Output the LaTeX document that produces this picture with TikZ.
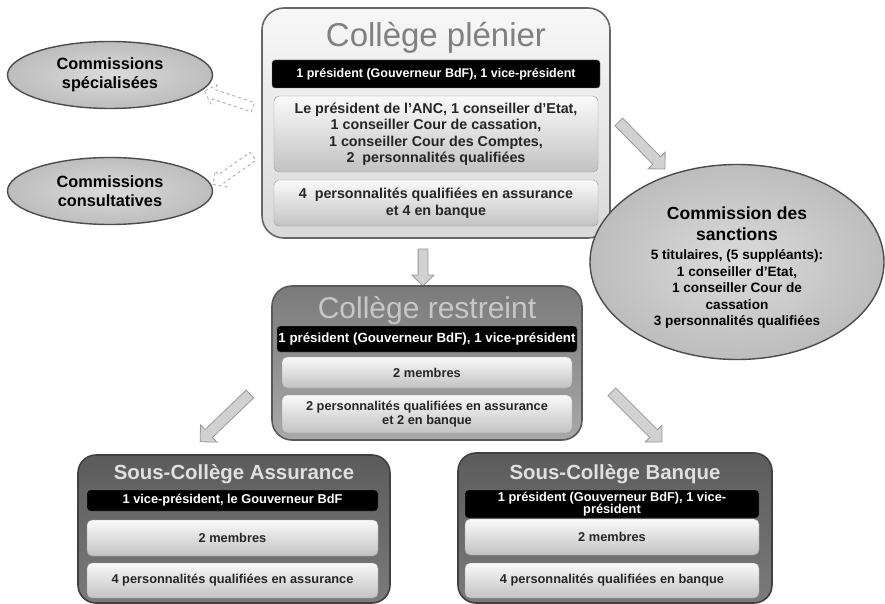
\documentclass[tikz,border=0pt]{standalone}
\usepackage{fontspec}
\setmainfont{Liberation Sans}
\usetikzlibrary{shapes.geometric,shapes.arrows}
\begin{document}
\begin{tikzpicture}[x=1pt,y=1pt,
  box/.style={rectangle, inner sep=0pt, align=center},
  outerA/.style={box, draw=black!60, line width=1.6pt, rounded corners=22pt, top color=black!3, bottom color=black!15},
  outerB/.style={box, draw=black!65, line width=1.6pt, rounded corners=20pt, top color=black!52, bottom color=black!34},
  outerC/.style={box, draw=black!75, line width=1.6pt, rounded corners=18pt, top color=black!64, bottom color=black!52},
  blackbar/.style={box, fill=black, draw=black!55, rounded corners=3pt, text=white},
  lightbox/.style={box, draw=black!40, rounded corners=5pt, top color=black!2, bottom color=black!24, text=black!85},
  oval/.style={ellipse, inner sep=0pt, align=center, draw=black!70, line width=1.4pt, inner color=black!14, outer color=black!26, text=black},
  bigarrow/.style={single arrow, draw=black!40, fill=black!18, line width=0.8pt, inner sep=5pt, single arrow head extend=6.5pt, single arrow head indent=0pt},
  dasharrow/.style={single arrow, draw=black!35, fill=white, dashed, line width=0.8pt, inner sep=4.5pt, single arrow head extend=5pt, single arrow head indent=0pt},
  fA/.style={font=\bfseries\fontsize{12.5}{14}\selectfont},
  fB/.style={font=\bfseries\fontsize{14.3}{16.5}\selectfont},
  fC/.style={font=\bfseries\fontsize{12.8}{14}\selectfont},
  fD/.style={font=\bfseries\fontsize{13.3}{14}\selectfont}
]
\useasboundingbox (0,0) rectangle (885,-604);
\fill[white] (0,0) rectangle (885,-604);

% Collège plénier
\node[outerA, minimum width=348, minimum height=230] (plen) at (436,-123) {};
\node[text=black!50, font=\fontsize{33}{36}\selectfont] (plent) at (436,-38) {Collège plénier};
\node[blackbar, fA, minimum width=328, minimum height=28] (plenb) at (436,-74) {1 président (Gouverneur BdF), 1 vice-président};
\node[lightbox, fB, minimum width=324, minimum height=76] (plen2) at (436,-134) {Le président de l'ANC, 1 conseiller d'Etat,\\1 conseiller Cour de cassation,\\1 conseiller Cour des Comptes,\\2\ \ personnalités qualifiées};
\node[lightbox, fB, minimum width=324, minimum height=46] (plen3) at (436,-203) {4\ \ personnalités qualifiées en assurance\\et 4 en banque};

% Ellipses left
\node[oval, minimum width=205, minimum height=67, font=\bfseries\fontsize{16.3}{19}\selectfont] (spec) at (110,-75) {Commissions\\spécialisées};
\node[oval, minimum width=205, minimum height=67, font=\bfseries\fontsize{16.3}{19}\selectfont] (cons) at (110,-191) {Commissions\\consultatives};

% Commission des sanctions
\node[oval, minimum width=294, minimum height=195] (sanc) at (737,-262) {};
\node[align=center, text=black, inner sep=0pt, font=\bfseries\fontsize{17.5}{21}\selectfont] (sanct) at (737,-224) {Commission des\\sanctions};
\node[align=center, text=black, inner sep=0pt, font=\bfseries\fontsize{13.6}{16.5}\selectfont] (sancd) at (737,-289) {5 titulaires, (5 suppléants):\\1 conseiller d'Etat,\\1 conseiller Cour de\\cassation\\3 personnalités qualifiées};

% arrows from plénier
\node[dasharrow, minimum height=51, rotate=161.6] (da1) at (231,-100) {};
\node[dasharrow, minimum height=49, rotate=215] (da2) at (235,-169) {};
\node[bigarrow, minimum height=66, rotate=-45.6] (a1) at (640,-143.5) {};
\node[bigarrow, minimum height=37, rotate=-90, inner sep=4.5pt, single arrow head extend=6pt] (a2) at (423,-265) {};

% Collège restreint
\node[outerB, minimum width=310, minimum height=154] (rest) at (427,-363) {};
\node[text=black!22, font=\fontsize{30}{33}\selectfont] (restt) at (427,-311) {Collège restreint};
\node[blackbar, fD, minimum width=300, minimum height=26] (restb) at (427,-339) {1 président (Gouverneur BdF), 1 vice-président};
\node[lightbox, fC, minimum width=290, minimum height=31] (rest2) at (427,-372.5) {2 membres};
\node[lightbox, fC, minimum width=290, minimum height=38] (rest3) at (427,-414) {2 personnalités qualifiées en assurance\\et 2 en banque};

% arrows from restreint
\node[bigarrow, minimum height=69, rotate=223.8] (a3) at (227,-416) {};
\node[bigarrow, minimum height=71, rotate=-45] (a4) at (635,-415) {};

% Sous-Collège Assurance
\node[outerC, minimum width=312, minimum height=148] (ass) at (234,-529) {};
\node[text=black!12, font=\bfseries\fontsize{20.4}{22}\selectfont] (asst) at (234,-474) {Sous-Collège Assurance};
\node[blackbar, fC, minimum width=291, minimum height=21] (assb) at (232.5,-500.5) {1 vice-président, le Gouverneur BdF};
\node[lightbox, fC, minimum width=291, minimum height=36] (ass2) at (232.5,-538) {2 membres};
\node[lightbox, fC, minimum width=291, minimum height=35] (ass3) at (232.5,-580.5) {4 personnalités qualifiées en assurance};

% Sous-Collège Banque
\node[outerC, minimum width=314, minimum height=150] (ban) at (615,-528) {};
\node[text=black!12, font=\bfseries\fontsize{20.4}{22}\selectfont] (bant) at (615,-474) {Sous-Collège Banque};
\node[blackbar, font=\bfseries\fontsize{12.8}{12.5}\selectfont, minimum width=294, minimum height=28] (banb) at (612,-504) {1 président (Gouverneur BdF), 1 vice-\\président};
\node[lightbox, fC, minimum width=294, minimum height=36] (ban2) at (612,-537) {2 membres};
\node[lightbox, fC, minimum width=294, minimum height=35] (ban3) at (612,-580.5) {4 personnalités qualifiées en banque};
\end{tikzpicture}
\end{document}
